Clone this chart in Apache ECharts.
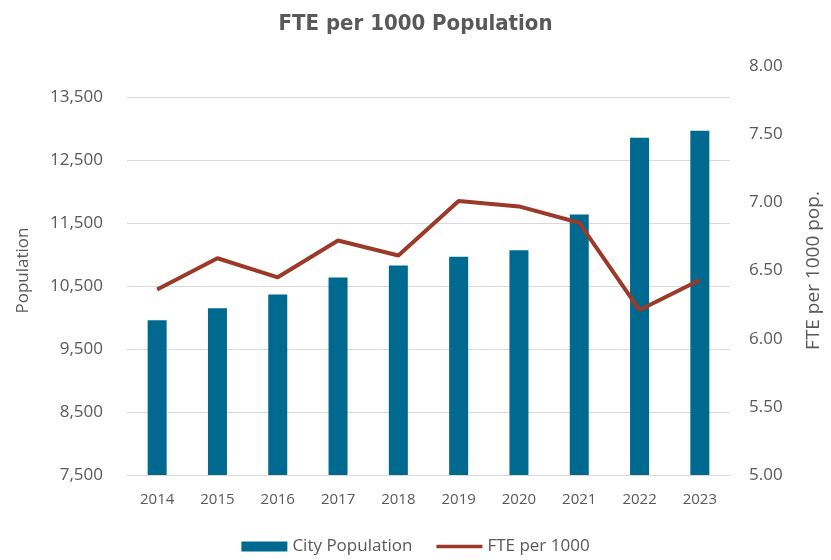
<!DOCTYPE html>
<html>
<head>
<meta charset="utf-8">
<script src="https://cdn.jsdelivr.net/npm/echarts@6/dist/echarts.min.js"></script>
<style>
	html, body { margin: 0; padding: 0; background: #fff; }
	#chart { width: 831px; height: 560px; }
</style>
</head>
<body>
<div id="chart"></div>
<script>
// data
var years = ['2014', '2015', '2016', '2017', '2018', '2019', '2020', '2021', '2022', '2023']
var city_population = [9960, 10150, 10370, 10640, 10830, 10970, 11070, 11640, 12860, 12970]
var fte_per_1000 = [6.36, 6.59, 6.45, 6.72, 6.61, 7.01, 6.97, 6.85, 6.21, 6.43]

var gray = '#595959'
var font = 'Open Sans'

let chart = echarts.init(document.getElementById('chart'))

let option = {
	animation: false,
	title: {
		text: 'FTE per 1000 Population',
		left: 'center',
		top: 8,
		textStyle: {
			fontFamily: 'DejaVu Sans Condensed',
			fontWeight: 'bold',
			fontSize: 22,
			color: gray
		}
	},
	legend: {
		bottom: 0,
		left: 'center',
		itemGap: 24,
		itemWidth: 46,
		itemHeight: 10,
		textStyle: { fontFamily: font, fontSize: 17, color: gray },
		data: [
			{ name: 'City Population', icon: 'rect' },
			{ name: 'FTE per 1000', icon: 'path://M0,0 h50 v4 h-50 z' }
		]
	},
	grid: {
		left: 127,
		right: 93,
		top: 66,
		bottom: 85
	},
	xAxis: {
		type: 'category',
		data: years,
		axisTick: { show: false },
		axisLine: { lineStyle: { color: '#d9d9d9', width: 1 } },
		axisLabel: { fontFamily: font, fontSize: 15, color: gray, margin: 17 }
	},
	yAxis: [
		{
			type: 'value',
			name: 'Population',
			nameLocation: 'middle',
			nameGap: 95,
			nameTextStyle: { fontFamily: font, fontSize: 17, color: gray },
			min: 7500,
			max: 14000,
			interval: 1000,
			axisLine: { show: false },
			axisTick: { show: false },
			axisLabel: {
				fontFamily: font, fontSize: 17, color: gray, margin: 24,
				showMaxLabel: false,
				formatter: function (v) { return v.toLocaleString('en-US') }
			},
			splitLine: { showMaxLine: false, lineStyle: { color: '#d9d9d9' } }
		},
		{
			type: 'value',
			name: 'FTE per 1000 pop.',
			nameLocation: 'middle',
			nameGap: 74,
			nameTextStyle: { fontFamily: font, fontSize: 19, color: gray },
			min: 5,
			max: 8,
			interval: 0.5,
			axisLine: { show: false },
			axisTick: { show: false },
			splitLine: { show: false },
			axisLabel: {
				fontFamily: font, fontSize: 17, color: gray, margin: 19,
				formatter: function (v) { return v.toFixed(2) }
			}
		}
	],
	series: [
		{
			name: 'City Population',
			type: 'bar',
			barWidth: 19,
			itemStyle: { color: '#00698f' },
			data: city_population
		},
		{
			name: 'FTE per 1000',
			type: 'line',
			yAxisIndex: 1,
			symbol: 'none',
			itemStyle: { color: '#9c3a2a' },
			lineStyle: { color: '#9c3a2a', width: 4 },
			data: fte_per_1000
		}
	]
}

chart.setOption(option)
</script>
</body>
</html>
